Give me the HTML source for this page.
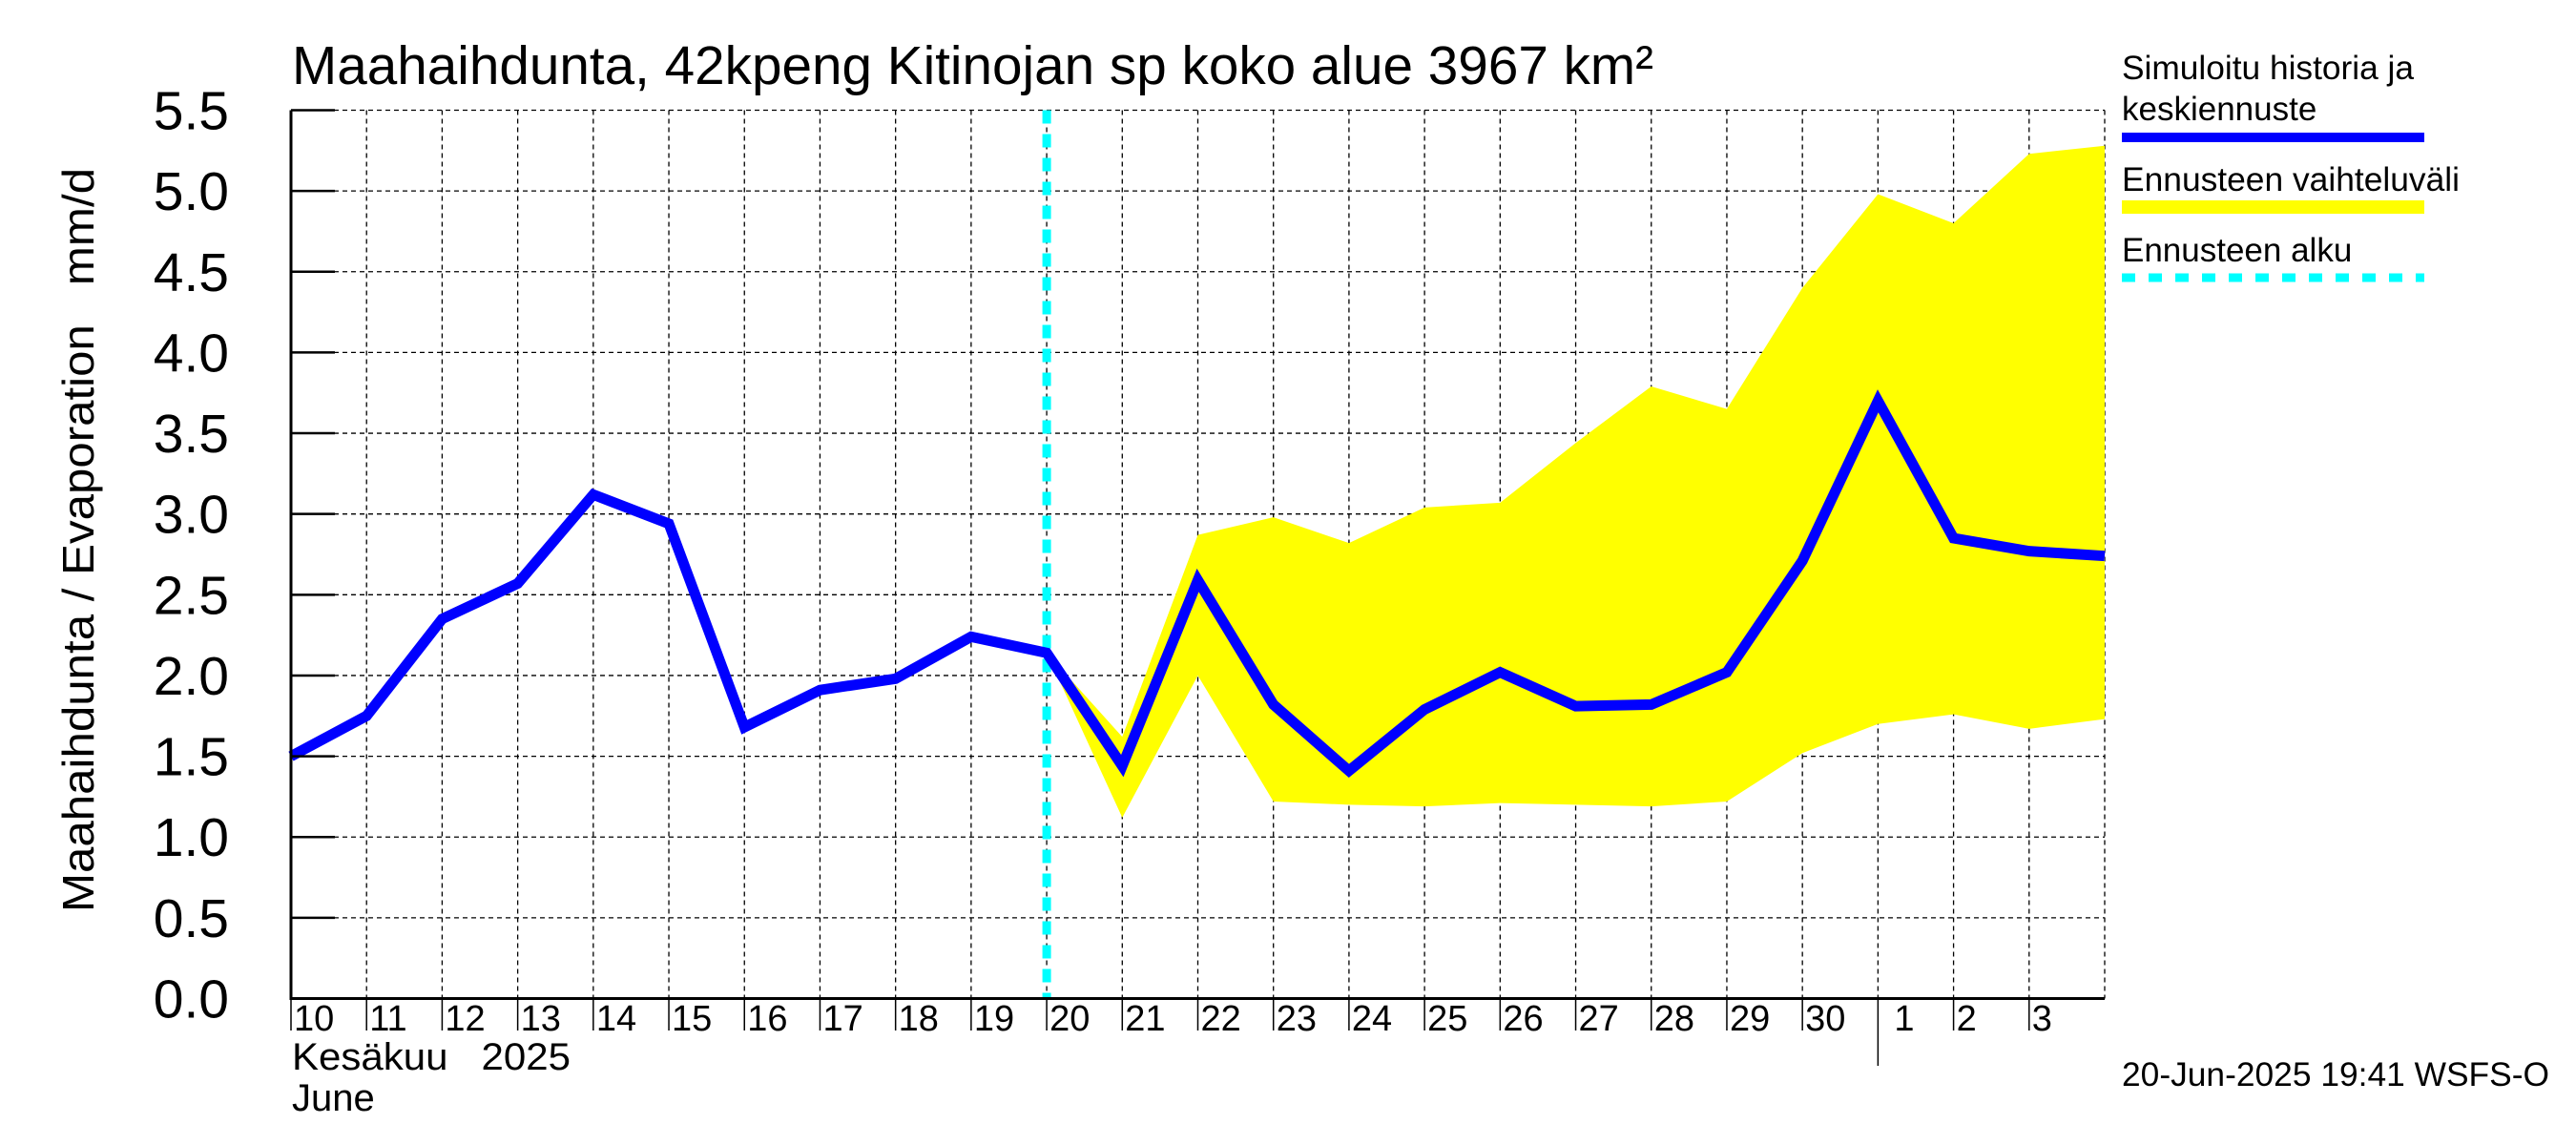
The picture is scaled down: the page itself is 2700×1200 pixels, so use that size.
<!DOCTYPE html>
<html><head><meta charset="utf-8"><style>
html,body{margin:0;padding:0;background:#fff;}
svg{display:block;font-family:"Liberation Sans",sans-serif;}
text{white-space:pre;}
</style></head><body>
<svg id="chart" width="2700" height="1200" viewBox="0 0 2700 1200" xmlns="http://www.w3.org/2000/svg">
<text x="306" y="88" font-size="57" textLength="1427" lengthAdjust="spacingAndGlyphs">Maahaihdunta, 42kpeng Kitinojan sp koko alue 3967 km²</text>
<text transform="translate(98,566) rotate(-90)" text-anchor="middle" font-size="46" textLength="780" lengthAdjust="spacingAndGlyphs">Maahaihdunta / Evaporation&#160;&#160;&#160;mm/d</text>
<g id="grid"></g>
<g id="band"></g>
<g id="lines"></g>
<g id="axes"></g>
<g id="legend">
<text x="2224" y="83" font-size="35" textLength="306" lengthAdjust="spacingAndGlyphs">Simuloitu historia ja</text>
<text x="2224" y="126" font-size="35">keskiennuste</text>
<rect x="2224" y="139" width="317" height="10" fill="#0000ff"/>
<text x="2224" y="200" font-size="35" textLength="354" lengthAdjust="spacingAndGlyphs">Ennusteen vaihteluväli</text>
<rect x="2224" y="210" width="317" height="14" fill="#ffff00"/>
<text x="2224" y="274" font-size="35">Ennusteen alku</text>
<line x1="2224" y1="291" x2="2541" y2="291" stroke="#00ffff" stroke-width="9" stroke-dasharray="14,14"/>
</g>
<text x="2224" y="1138" font-size="35" textLength="448" lengthAdjust="spacingAndGlyphs">20-Jun-2025 19:41 WSFS-O</text>
<text x="306" y="1121" font-size="40" textLength="292" lengthAdjust="spacingAndGlyphs">Kesäkuu&#160;&#160;&#160;2025</text>
<text x="306" y="1164" font-size="40">June</text>
</svg>
<script>
const dayLabels = ["10","11","12","13","14","15","16","17","18","19","20","21","22","23","24","25","26","27","28","29","30","1","2","3"];
const yTicks = [0,0.5,1,1.5,2,2.5,3,3.5,4,4.5,5,5.5];
const yTickLabels = ["0.0","0.5","1.0","1.5","2.0","2.5","3.0","3.5","4.0","4.5","5.0","5.5"];
const simDays = [0,1,2,3,4,5,6,7,8,9,10,11,12,13,14,15,16,17,18,19,20,21,22,23,24];
const simValues = [1.5,1.75,2.35,2.57,3.12,2.94,1.68,1.91,1.98,2.24,2.14,1.44,2.59,1.82,1.41,1.79,2.02,1.81,1.82,2.02,2.71,3.7,2.85,2.77,2.74];
const bandDays = [10,11,12,13,14,15,16,17,18,19,20,21,22,23,24];
const bandUpper = [2.14,1.62,2.87,2.98,2.82,3.04,3.07,3.44,3.79,3.65,4.4,4.98,4.8,5.23,5.28];
const bandLower = [2.14,1.12,2.0,1.22,1.2,1.19,1.21,1.2,1.19,1.22,1.52,1.7,1.76,1.67,1.73];
const forecastStartDay = 10;
const monthBoundaryDay = 21;

const X0=305, X1=2206, Y0=1046.5, Y1=115.5, NDAYS=24, YMAX=5.5;
const xs = d => X0 + (X1-X0)*d/NDAYS;
const ys = v => Y0 - (Y0-Y1)*v/YMAX;
const NS="http://www.w3.org/2000/svg";
function mk(tag, attrs, parent){const e=document.createElementNS(NS,tag);for(const k in attrs)e.setAttribute(k,attrs[k]);parent.appendChild(e);return e;}
const grid=document.getElementById('grid'), band=document.getElementById('band'), lines=document.getElementById('lines'), axes=document.getElementById('axes');

yTicks.forEach((v,i)=>{
  const y=ys(v);
  if(i>0){const g=mk('line',{x1:X0,x2:X1,y1:y,y2:y,stroke:'#000','stroke-width':1.3,'stroke-dasharray':'5,4'},grid);
  
  }
  const t=mk('line',{x1:X0,x2:X0+46,y1:y,y2:y,stroke:'#000','stroke-width':2.5},axes);
  
  
  const l=mk('text',{x:240,y:y+20,'font-size':57,'text-anchor':'end'},axes);
  l.textContent=yTickLabels[i];
  
  
});
for(let d=0; d<=NDAYS; d++){
  const x=xs(d);
  if(d>0){const g=mk('line',{x1:x,x2:x,y1:Y1,y2:Y0,stroke:'#000','stroke-width':1.3,'stroke-dasharray':'5,4'},grid);
  
  }
  if(d<NDAYS){
    const t=mk('line',{x1:x,x2:x,y1:Y0,y2:(d===monthBoundaryDay?1117:1080),stroke:'#000','stroke-width':1.5},axes);
    
    
    const l=mk('text',{x:x+(d===monthBoundaryDay?17:3),y:1080,'font-size':38},axes);
    l.textContent=dayLabels[d];
    
    
  }
}
let pts=bandDays.map((d,i)=>xs(d)+','+ys(bandUpper[i]));
for(let i=bandDays.length-1;i>=0;i--) pts.push(xs(bandDays[i])+','+ys(bandLower[i]));
const poly=mk('polygon',{points:pts.join(' '),fill:'#ffff00',stroke:'none'},band);


const fs=mk('line',{x1:xs(forecastStartDay),x2:xs(forecastStartDay),y1:Y1,y2:Y0,stroke:'#00ffff','stroke-width':9,'stroke-dasharray':'14,11'},lines);


const sl=mk('polyline',{points:simDays.map((d,i)=>xs(d)+','+ys(simValues[i])).join(' '),fill:'none',stroke:'#0000ff','stroke-width':11,'stroke-linejoin':'miter'},lines);


const ax=mk('polyline',{points:`${X0},${Y1} ${X0},${Y0} ${X1},${Y0}`,fill:'none',stroke:'#000','stroke-width':3},axes);


</script>
</body></html>
